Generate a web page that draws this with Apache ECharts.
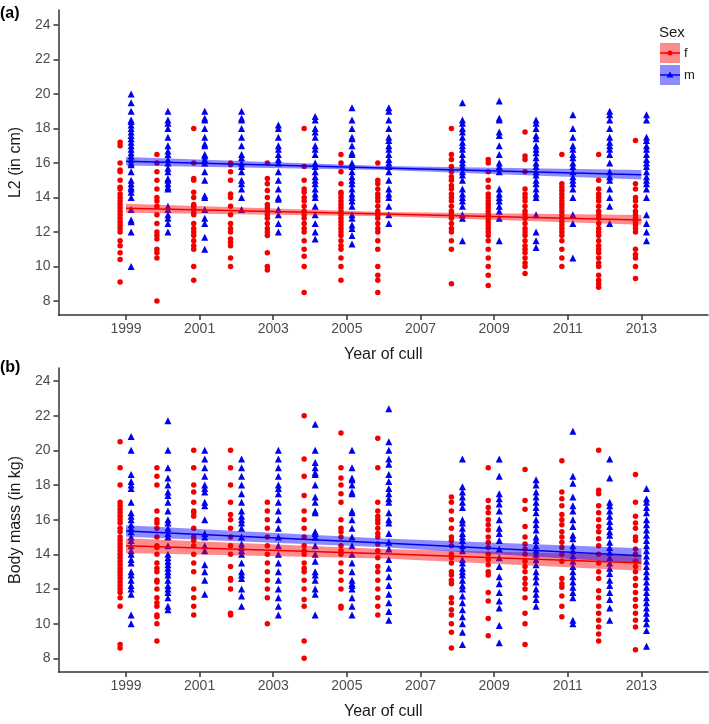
<!DOCTYPE html>
<html>
<head>
<meta charset="utf-8">
<script src="https://cdn.jsdelivr.net/npm/echarts@6/dist/echarts.min.js"></script>
<style>html,body{margin:0;padding:0;background:#fff}#c{width:709px;height:724px}</style>
</head>
<body>
<div id="c"></div>
<script>
// ---------- data ----------
const years = [1999, 2000, 2001, 2002, 2003, 2004, 2005, 2006, 2008, 2009, 2010, 2011, 2012, 2013];
const xTicks = [1999, 2001, 2003, 2005, 2007, 2009, 2011, 2013];
const yTicks = [8, 10, 12, 14, 16, 18, 20, 22, 24];

// Panel (a): L2 (cm), per year
const l2Female = [
  [17.2, 17.0, 16.0, 15.6, 15.5, 15.0, 14.6, 14.5, 14.2, 14.0, 13.8, 13.6, 13.4, 13.2, 13.0, 12.8, 12.6, 12.4, 12.2, 12.0, 11.5, 11.2, 10.8, 10.4, 9.1],
  [16.5, 16.0, 15.5, 15.0, 14.5, 14.0, 13.8, 13.5, 13.0, 12.5, 12.0, 11.8, 11.6, 11.0, 10.8, 10.5, 8.0],
  [18.0, 16.0, 15.1, 15.0, 14.3, 14.0, 13.6, 13.5, 13.3, 13.1, 13.0, 12.5, 12.2, 12.0, 11.8, 11.5, 11.2, 11.0, 10.0, 9.2],
  [16.0, 15.9, 15.5, 15.0, 14.2, 14.0, 13.5, 13.0, 12.5, 12.2, 12.0, 11.6, 11.4, 11.2, 10.5, 10.0],
  [16.0, 15.1, 14.8, 14.4, 14.0, 13.6, 13.4, 13.2, 13.0, 12.8, 12.5, 12.2, 12.0, 11.8, 10.8, 10.0, 9.8],
  [18.0, 15.8, 15.0, 14.5, 14.3, 14.0, 13.8, 13.5, 13.2, 13.0, 12.8, 12.5, 12.2, 12.0, 11.5, 11.0, 10.6, 10.0, 8.5],
  [16.5, 16.0, 15.5, 14.8, 14.3, 14.2, 14.0, 13.8, 13.6, 13.4, 13.2, 13.0, 12.8, 12.6, 12.4, 12.2, 12.0, 11.8, 11.5, 11.2, 11.0, 10.5, 10.0, 9.2],
  [16.0, 15.0, 14.8, 14.5, 14.2, 14.0, 13.8, 13.5, 13.2, 13.0, 12.8, 12.5, 12.2, 12.0, 11.5, 11.0, 10.0, 9.5, 9.2, 8.5],
  [18.0, 16.5, 16.2, 15.8, 15.5, 15.2, 15.0, 14.7, 14.5, 14.2, 14.0, 13.8, 13.5, 13.2, 13.0, 12.8, 12.5, 12.2, 12.0, 11.5, 11.0, 9.0],
  [16.2, 16.0, 15.5, 15.0, 14.6, 14.2, 14.0, 13.8, 13.6, 13.4, 13.2, 13.0, 12.8, 12.6, 12.4, 12.2, 12.0, 11.8, 11.5, 11.0, 10.5, 10.0, 9.5, 8.9],
  [17.8, 16.4, 16.2, 15.5, 14.5, 14.2, 14.0, 13.8, 13.5, 13.2, 13.0, 12.8, 12.5, 12.2, 12.0, 11.8, 11.5, 11.2, 11.0, 10.8, 10.5, 10.2, 10.0, 9.6],
  [16.5, 14.8, 14.6, 14.4, 14.2, 14.0, 13.8, 13.6, 13.4, 13.2, 13.0, 12.8, 12.6, 12.4, 12.2, 12.0, 11.8, 11.5, 11.0, 10.5, 10.0],
  [16.5, 15.0, 14.5, 14.2, 14.0, 13.8, 13.5, 13.2, 13.0, 12.8, 12.5, 12.2, 12.0, 11.8, 11.5, 11.2, 11.0, 10.8, 10.5, 10.2, 10.0, 9.5, 9.2, 9.0, 8.8],
  [17.3, 14.8, 14.5, 14.0, 13.8, 13.5, 13.2, 13.0, 12.8, 12.6, 12.4, 12.2, 12.0, 11.0, 10.7, 10.5, 10.0, 9.3]
];
const l2Male = [
  [20.0, 19.5, 19.0, 18.5, 18.4, 18.2, 18.0, 17.8, 17.6, 17.4, 17.2, 17.0, 16.8, 16.6, 16.4, 16.2, 16.0, 15.9, 15.5, 15.0, 14.8, 14.6, 14.5, 14.3, 14.0, 13.3, 12.7, 12.6, 12.0, 10.0],
  [19.0, 18.5, 18.3, 18.0, 17.5, 17.0, 16.7, 16.5, 16.2, 16.0, 15.7, 15.5, 15.1, 15.0, 14.8, 14.6, 14.5, 13.5, 13.3, 13.0, 12.8, 12.5, 12.0],
  [19.0, 18.6, 18.5, 18.0, 17.5, 17.1, 17.0, 16.5, 16.4, 16.2, 16.0, 15.5, 15.0, 14.1, 14.0, 13.3, 12.8, 12.5, 11.7, 11.0],
  [19.0, 18.6, 18.5, 18.0, 17.5, 17.0, 16.5, 16.3, 16.0, 15.8, 15.5, 15.0, 14.8, 14.5, 14.0, 13.3],
  [18.2, 18.0, 17.5, 17.0, 16.8, 16.5, 16.2, 16.0, 15.5, 15.0, 14.5, 14.0, 13.9, 13.3, 13.0, 12.5, 12.0],
  [18.7, 18.5, 18.0, 17.8, 17.5, 17.0, 16.8, 16.5, 16.0, 15.8, 15.5, 15.2, 15.0, 14.8, 14.5, 14.2, 14.0, 13.5, 13.0, 12.5, 12.0, 11.6],
  [19.2, 18.5, 18.0, 17.5, 17.4, 17.0, 16.6, 16.5, 16.0, 15.8, 15.5, 15.2, 15.0, 14.8, 14.5, 14.2, 14.0, 13.8, 13.5, 13.0, 12.8, 12.4, 12.2, 11.8, 11.3],
  [19.2, 19.0, 18.5, 18.0, 17.5, 17.3, 17.0, 16.8, 16.5, 16.2, 16.0, 15.8, 15.5, 15.0, 14.5, 14.2, 14.0, 13.5, 13.0, 12.5],
  [19.5, 18.5, 18.3, 18.0, 17.8, 17.5, 17.2, 17.0, 16.8, 16.5, 16.2, 16.0, 15.8, 15.5, 15.3, 15.0, 14.5, 14.2, 14.0, 13.8, 13.5, 13.0, 12.8, 11.5],
  [19.6, 18.6, 18.5, 17.8, 17.6, 17.0, 16.5, 16.0, 15.8, 15.5, 14.5, 14.2, 14.0, 13.8, 13.5, 13.2, 12.8, 11.5],
  [18.5, 18.3, 18.0, 17.6, 17.4, 17.0, 16.8, 16.6, 16.3, 16.0, 15.8, 15.5, 15.3, 15.0, 14.8, 14.5, 14.2, 14.0, 13.0, 12.0, 11.5, 11.1],
  [18.8, 18.0, 17.5, 17.0, 16.8, 16.5, 16.3, 16.0, 15.8, 15.5, 15.2, 15.0, 14.8, 14.5, 14.0, 13.0, 12.5, 10.5],
  [19.0, 18.8, 18.5, 18.0, 17.5, 17.2, 17.0, 16.8, 16.5, 16.0, 15.5, 15.2, 15.0, 14.5, 14.0, 13.5, 12.5],
  [18.8, 18.5, 17.5, 17.3, 17.0, 16.8, 16.5, 16.2, 16.0, 15.8, 15.5, 15.2, 15.0, 14.8, 14.5, 14.0, 13.0, 12.5, 12.0, 11.5]
];

// Panel (b): body mass (kg), per year
const massFemale = [
  [20.5, 19.0, 18.0, 17.0, 16.8, 16.6, 16.4, 16.2, 16.0, 15.8, 15.5, 15.3, 15.0, 14.8, 14.6, 14.4, 14.2, 14.0, 13.8, 13.6, 13.4, 13.2, 13.0, 12.8, 12.6, 12.4, 12.2, 12.0, 11.8, 11.5, 11.0, 8.8, 8.6],
  [19.0, 18.5, 18.0, 16.5, 16.0, 15.8, 15.5, 15.0, 14.5, 14.4, 14.0, 13.5, 13.2, 13.0, 12.5, 12.4, 12.0, 11.5, 11.2, 11.0, 10.5, 10.4, 10.0, 9.0],
  [20.0, 19.0, 18.0, 17.6, 17.0, 16.5, 16.4, 16.2, 15.5, 15.0, 14.8, 14.5, 14.0, 13.5, 13.0, 12.0, 11.5, 11.0, 10.5],
  [20.0, 19.0, 18.0, 17.0, 16.3, 16.0, 15.5, 15.0, 14.5, 14.0, 13.3, 12.6, 12.5, 12.0, 10.6, 10.5],
  [17.0, 16.5, 16.0, 15.5, 15.0, 14.5, 14.0, 13.5, 13.0, 12.5, 12.0, 11.5, 10.0],
  [22.0, 19.5, 18.5, 17.4, 16.5, 16.0, 15.5, 15.0, 14.5, 14.2, 14.0, 13.5, 13.2, 13.0, 12.5, 12.0, 11.4, 11.0, 9.0, 8.0],
  [21.0, 19.0, 18.4, 18.0, 17.5, 17.0, 16.0, 15.5, 15.3, 15.0, 14.5, 14.2, 14.0, 13.5, 13.0, 12.5, 12.0, 11.0, 10.9],
  [20.7, 19.0, 17.0, 16.5, 16.2, 16.0, 15.8, 15.5, 15.2, 15.0, 14.6, 14.2, 13.8, 13.3, 13.0, 12.5, 12.0, 11.5, 11.0, 10.5],
  [17.3, 17.0, 16.5, 16.0, 15.5, 15.0, 14.8, 14.5, 14.0, 13.8, 13.5, 13.0, 12.8, 12.5, 12.3, 11.5, 11.2, 10.8, 10.5, 10.0, 9.5, 8.6],
  [19.0, 17.1, 16.7, 16.4, 16.0, 15.7, 15.4, 15.0, 14.7, 14.4, 14.0, 13.7, 13.4, 13.0, 12.8, 11.8, 11.3, 10.3, 9.3],
  [18.9, 17.1, 16.6, 15.6, 15.0, 14.6, 14.3, 14.0, 13.6, 13.3, 13.0, 12.6, 12.3, 12.0, 11.5, 10.6, 10.0, 8.8],
  [19.4, 17.6, 17.2, 16.8, 16.3, 16.0, 15.7, 15.3, 15.0, 14.7, 14.4, 14.0, 13.6, 12.6, 12.3, 12.1, 11.6, 11.0, 10.4],
  [20.0, 17.7, 17.5, 16.8, 16.4, 16.0, 15.6, 15.3, 14.9, 14.5, 14.0, 13.5, 13.0, 12.6, 11.9, 11.5, 11.0, 10.6, 10.2, 9.8, 9.4, 9.0],
  [18.6, 17.0, 16.2, 15.8, 15.5, 15.0, 14.8, 14.3, 14.0, 13.6, 13.3, 13.0, 12.6, 12.2, 11.8, 11.4, 11.0, 10.6, 10.2, 9.8, 8.5]
];
const massMale = [
  [20.8, 20.0, 18.6, 18.2, 18.0, 17.8, 17.0, 16.4, 16.2, 16.0, 15.7, 15.5, 15.3, 15.0, 14.8, 14.5, 14.2, 14.0, 13.7, 13.5, 13.0, 12.8, 12.5, 12.2, 12.0, 11.7, 10.5, 10.0],
  [21.7, 20.0, 19.0, 18.4, 18.0, 17.6, 17.4, 17.0, 16.5, 16.0, 15.8, 15.5, 15.2, 15.0, 14.5, 14.0, 13.8, 13.6, 13.4, 13.2, 13.0, 12.8, 12.5, 12.2, 12.0, 11.8, 11.5, 11.0, 10.8],
  [20.0, 19.5, 19.0, 18.5, 18.0, 17.8, 17.6, 17.0, 16.8, 16.0, 15.2, 15.0, 14.5, 14.2, 13.4, 13.0, 12.5, 11.7],
  [19.5, 19.0, 18.5, 18.0, 17.5, 17.0, 16.5, 16.2, 16.0, 15.8, 15.5, 15.0, 14.6, 14.4, 14.2, 14.0, 13.5, 13.0, 12.8, 12.6, 12.0, 11.6, 11.0],
  [20.0, 19.5, 19.0, 18.5, 18.0, 17.8, 17.5, 17.0, 16.5, 16.0, 15.5, 15.0, 14.5, 14.0, 13.5, 13.0, 12.5, 12.0, 11.5, 11.0, 10.5],
  [21.5, 20.0, 19.3, 19.0, 18.7, 18.6, 18.0, 17.3, 17.0, 16.5, 16.4, 15.3, 15.2, 15.0, 14.5, 14.0, 13.6, 13.0, 12.8, 12.5, 12.0, 11.7, 10.5],
  [20.0, 19.0, 18.4, 18.3, 18.0, 17.6, 17.5, 16.5, 16.4, 16.0, 15.5, 15.0, 14.5, 14.0, 13.5, 13.0, 12.5, 12.3, 12.2, 12.0, 11.5, 11.0, 10.5],
  [22.4, 20.5, 20.0, 19.5, 19.2, 18.6, 18.2, 17.8, 17.5, 17.2, 17.0, 16.4, 16.0, 15.8, 15.2, 14.7, 14.3, 13.7, 13.2, 12.7, 12.2, 11.7, 11.2, 10.7, 10.2],
  [19.5, 17.9, 17.6, 17.3, 17.0, 16.7, 16.0, 15.8, 15.5, 15.2, 15.0, 14.8, 14.5, 14.2, 13.7, 13.5, 13.2, 13.0, 12.8, 12.5, 12.2, 12.0, 11.6, 11.2, 10.8, 10.4, 10.0, 9.5, 8.8],
  [19.5, 18.5, 17.5, 17.2, 16.9, 16.5, 16.0, 15.5, 15.2, 14.8, 14.3, 13.8, 13.3, 12.7, 12.3, 11.8, 11.3, 10.9, 9.9, 8.9],
  [18.3, 18.0, 17.6, 17.3, 17.0, 16.7, 16.4, 16.0, 15.7, 15.4, 15.0, 14.8, 14.5, 14.2, 14.0, 13.7, 13.4, 13.0, 12.7, 12.4, 12.0, 11.7, 11.4, 11.0],
  [21.1, 18.5, 18.1, 17.3, 16.8, 16.5, 16.0, 15.6, 15.1, 14.9, 14.5, 14.2, 13.9, 13.6, 13.3, 13.0, 12.7, 12.4, 12.1, 11.8, 11.5, 10.2, 10.0],
  [19.5, 18.4, 17.0, 16.8, 16.5, 16.2, 15.9, 15.6, 15.3, 15.1, 14.7, 14.4, 14.1, 13.8, 13.5, 13.2, 12.9, 12.5, 12.2, 11.8, 11.4, 10.9, 10.2],
  [17.8, 17.2, 17.0, 16.7, 16.4, 16.0, 15.7, 15.4, 15.1, 14.8, 14.5, 14.2, 13.9, 13.6, 13.3, 13.0, 12.7, 12.4, 12.1, 11.8, 11.5, 11.2, 10.9, 10.6, 10.3, 10.0, 9.6, 8.7]
];

// fitted trend lines with confidence bands (read at 1999, 2006, 2013)
const fitYears = [1999, 2006, 2013];
const l2FitF = [13.38, 13.04, 12.70];
const l2LowF = [13.12, 12.92, 12.42];
const l2UpF  = [13.64, 13.16, 12.98];
const l2FitM = [16.10, 15.71, 15.32];
const l2LowM = [15.85, 15.59, 15.05];
const l2UpM  = [16.35, 15.83, 15.59];
const massFitF = [14.50, 14.03, 13.50];
const massLowF = [14.08, 13.76, 13.05];
const massUpF  = [14.92, 14.30, 13.95];
const massFitM = [15.35, 14.66, 13.92];
const massLowM = [15.02, 14.41, 13.49];
const massUpM  = [15.68, 14.91, 14.35];

// ---------- styling ----------
const RED = '#f20000', BLUE = '#0000f0';
const RED_BAND = 'rgba(255,0,0,0.45)', BLUE_BAND = 'rgba(0,0,255,0.45)';
const FONT = '"Liberation Sans", Arial, sans-serif';
const F_OFF = -0.16, M_OFF = 0.14;

function pts(groups, off) {
  const out = [];
  groups.forEach((vals, i) => vals.forEach(v => out.push([years[i] + off, v])));
  return out;
}
function pairs(xs, ys) { return xs.map((x, i) => [x, ys[i]]); }
// band segments: [x0, lo0, up0, x1, lo1, up1]
function segs(xs, lo, up) {
  const out = [];
  for (let i = 0; i < xs.length - 1; i++) out.push([xs[i], lo[i], up[i], xs[i + 1], lo[i + 1], up[i + 1]]);
  return out;
}

function xAxis(gi) {
  return {
    gridIndex: gi, type: 'value', min: 1997.166, max: 2014.81,
    name: 'Year of cull', nameLocation: 'middle', nameGap: 40,
    nameTextStyle: { fontFamily: FONT, fontSize: 16, color: '#1a1a1a', verticalAlign: 'middle' },
    axisLine: { show: true, onZero: false, lineStyle: { color: '#333', width: 1.5 } },
    axisTick: { show: true, customValues: xTicks, length: 5, lineStyle: { color: '#333', width: 1.5 } },
    axisLabel: { customValues: xTicks, formatter: v => String(v), fontFamily: FONT, fontSize: 14, color: '#4d4d4d', margin: 7 },
    splitLine: { show: false }
  };
}
function yAxis(gi, name, min, max) {
  return {
    gridIndex: gi, type: 'value', min: min, max: max,
    name: name, nameLocation: 'middle', nameGap: 41, nameRotate: 90,
    nameTextStyle: { fontFamily: FONT, fontSize: 16, color: '#1a1a1a', verticalAlign: 'middle' },
    axisLine: { show: true, onZero: false, lineStyle: { color: '#333', width: 1.5 } },
    axisTick: { show: true, customValues: yTicks, length: 5, lineStyle: { color: '#333', width: 1.5 } },
    axisLabel: { customValues: yTicks, formatter: v => String(v), fontFamily: FONT, fontSize: 14, color: '#4d4d4d', margin: 8 },
    splitLine: { show: false }
  };
}

function bandSeries(gi, data, color) {
  return {
    type: 'custom', xAxisIndex: gi, yAxisIndex: gi, data: data, z: 3, silent: true,
    encode: { x: [0, 3], y: [1, 2, 4, 5] },
    renderItem: function (params, api) {
      const a = api.coord([api.value(0), api.value(1)]);
      const b = api.coord([api.value(0), api.value(2)]);
      const c = api.coord([api.value(3), api.value(5)]);
      const d = api.coord([api.value(3), api.value(4)]);
      return { type: 'polygon', shape: { points: [a, b, c, d] }, style: { fill: color, stroke: color, lineWidth: 0.01 } };
    }
  };
}

function panelSeries(gi, fF, fM, fit) {
  const s = [];
  s.push({ type: 'scatter', xAxisIndex: gi, yAxisIndex: gi, data: pts(fF, F_OFF), symbol: 'circle', symbolSize: 5.5, itemStyle: { color: RED, opacity: 1 }, z: 2, silent: true });
  s.push({ type: 'scatter', xAxisIndex: gi, yAxisIndex: gi, data: pts(fM, M_OFF), symbol: 'triangle', symbolSize: 7, itemStyle: { color: BLUE, opacity: 1 }, z: 2, silent: true });
  s.push(bandSeries(gi, segs(fitYears, fit.lowF, fit.upF), RED_BAND));
  s.push(bandSeries(gi, segs(fitYears, fit.lowM, fit.upM), BLUE_BAND));
  s.push({ type: 'line', xAxisIndex: gi, yAxisIndex: gi, data: pairs(fitYears, fit.fitF), showSymbol: false, lineStyle: { color: RED, width: 1.5 }, z: 4, silent: true });
  s.push({ type: 'line', xAxisIndex: gi, yAxisIndex: gi, data: pairs(fitYears, fit.fitM), showSymbol: false, lineStyle: { color: BLUE, width: 1.5 }, z: 4, silent: true });
  return s;
}

const chart = echarts.init(document.getElementById('c'), null, { renderer: 'canvas' });
const option = {
  animation: false,
  backgroundColor: '#fff',
  grid: [
    { left: 54, right: 1, top: 10, height: 305 },
    { left: 54, right: 1, top: 368, height: 304 }
  ],
  xAxis: [xAxis(0), xAxis(1)],
  yAxis: [yAxis(0, 'L2 (in cm)', 7.19, 24.87), yAxis(1, 'Body mass (in kg)', 7.21, 24.75)],
  series: [].concat(
    panelSeries(0, l2Female, l2Male, { fitF: l2FitF, lowF: l2LowF, upF: l2UpF, fitM: l2FitM, lowM: l2LowM, upM: l2UpM }),
    panelSeries(1, massFemale, massMale, { fitF: massFitF, lowF: massLowF, upF: massUpF, fitM: massFitM, lowM: massLowM, upM: massUpM })
  ),
  graphic: [
    { type: 'text', left: 0, top: 6, style: { text: '(a)', font: 'bold 16px ' + FONT, fill: '#000' } },
    { type: 'text', left: 0, top: 360, style: { text: '(b)', font: 'bold 16px ' + FONT, fill: '#000' } },
    { type: 'text', x: 659, y: 33, style: { text: 'Sex', font: '15px ' + FONT, fill: '#1a1a1a', verticalAlign: 'middle' } },
    { type: 'rect', shape: { x: 660, y: 43, width: 20, height: 20 }, style: { fill: RED_BAND } },
    { type: 'line', shape: { x1: 660, y1: 53, x2: 680, y2: 53 }, style: { stroke: RED, lineWidth: 1.5 } },
    { type: 'circle', shape: { cx: 670, cy: 53, r: 2.5 }, style: { fill: RED } },
    { type: 'text', x: 684, y: 53, style: { text: 'f', font: '13px ' + FONT, fill: '#1a1a1a', verticalAlign: 'middle' } },
    { type: 'rect', shape: { x: 660, y: 65, width: 20, height: 20 }, style: { fill: BLUE_BAND } },
    { type: 'line', shape: { x1: 660, y1: 75, x2: 680, y2: 75 }, style: { stroke: BLUE, lineWidth: 1.5 } },
    { type: 'polygon', shape: { points: [[670, 71.5], [673.5, 77.5], [666.5, 77.5]] }, style: { fill: BLUE } },
    { type: 'text', x: 684, y: 75, style: { text: 'm', font: '13px ' + FONT, fill: '#1a1a1a', verticalAlign: 'middle' } }
  ]
};
chart.setOption(option);
</script>
</body>
</html>
